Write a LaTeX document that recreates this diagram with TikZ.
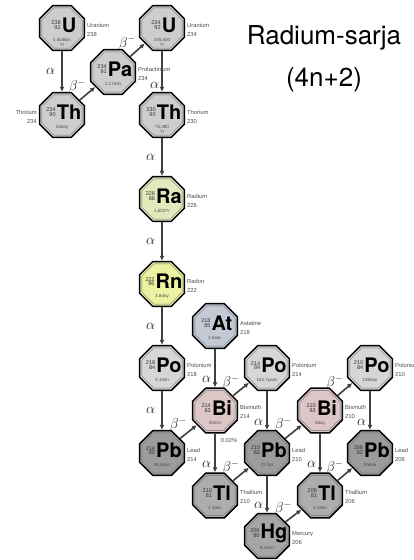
\documentclass[tikz,border=0pt]{standalone}
\usepackage{fontspec}
\setsansfont{TeX Gyre Heros}
\newfontfamily\lab{Liberation Sans}
\usetikzlibrary{shapes.geometric,arrows.meta}
\definecolor{cU}{HTML}{CDCDCD}
\definecolor{cRa}{HTML}{E2E9BC}
\definecolor{cRn}{HTML}{ECF2A2}
\definecolor{cAt}{HTML}{C4C9D6}
\definecolor{cPo}{HTML}{D6D6D6}
\definecolor{cBi}{HTML}{DCC6C6}
\definecolor{cPb}{HTML}{9C9C9C}
\definecolor{cTl}{HTML}{ADADAD}
\definecolor{cHg}{HTML}{A6A6A6}
\tikzset{
 oct/.style={regular polygon, regular polygon sides=8, minimum size=48.5pt, inner sep=0pt, draw=black, line width=1.5pt},
 octin/.style={regular polygon, regular polygon sides=8, minimum size=43.5pt, inner sep=0pt, draw=black!55, line width=0.4pt},
 sym/.style={font=\sffamily\bfseries\fontsize{20}{20}\selectfont, inner sep=0pt},
 num/.style={font=\lab\fontsize{5.5}{6}\selectfont, inner sep=0pt, text=black!80},
 hl/.style={font=\lab\fontsize{4.5}{5}\selectfont, inner sep=0pt, text=black!70, align=center, anchor=north},
 nm/.style={font=\lab\fontsize{5.8}{9}\selectfont, inner sep=0pt, text=black!70},
 decay/.style={draw=black!75, line width=1.6pt, -{Latex[length=5pt,width=5pt]}},
 glab/.style={font=\fontsize{14}{14}\selectfont, inner sep=0pt, text=black!85},
 alab/.style={glab, pos=0.5, left=6pt},
 alab2/.style={glab, pos=0.8, left=3pt},
 blab/.style={glab, pos=0.45, above left=0pt},
 title/.style={font=\sffamily\fontsize{26}{26}\selectfont, inner sep=0pt, anchor=base},
}
\newcommand\Nuc[9]{%
  \node[oct, fill=#8] (#1) at (#2,#3) {};
  \node[octin] (#1-in) at (#2,#3) {};
  \node[sym] (#1-s) at (#2+7,#3-2.5) {#6};
  \node[num, anchor=south east] (#1-a) at ([xshift=-0.8pt,yshift=0.3pt]#1-s.west) {#4};
  \node[num, anchor=north east] (#1-z) at ([xshift=-0.8pt,yshift=-0.3pt]#1-s.west) {#5};
  \node[hl] (#1-h) at (#2,#3+10.5) {#7};
  \node[nm, anchor=north west, align=left] (#1-l) at (#2+25,#3-5) {#9};
}
\begin{document}
\begin{tikzpicture}[x=1pt,y=-1pt]
\useasboundingbox (0,0) rectangle (414,560);
\fill[white] (0,0) rectangle (414,560);
\Nuc{U238}{62}{28}{238}{92}{U}{4.5billion\\Yr}{cU}{Uranium\\238}
\Nuc{U234}{162}{28}{234}{92}{U}{245,500\\Yr}{cU}{Uranium\\234}
\Nuc{Pa234}{113}{72}{234}{91}{Pa}{1.17min}{cU}{Protactinium\\234}
\Nuc{Th234}{62}{115}{234}{90}{Th}{24day}{cU}{}
\node[nm, anchor=north east, align=right] (Th234-l) at (37,110) {Thorium\\234};
\Nuc{Th230}{162}{115}{230}{90}{Th}{75,380\\Yr}{cU}{Thorium\\230}
\Nuc{Ra226}{162}{199}{226}{88}{Ra}{1,602Yr}{cRa}{Radium\\226}
\Nuc{Rn222}{162}{284}{222}{86}{Rn}{3.8day}{cRn}{Radon\\222}
\Nuc{At218}{215}{326}{218}{85}{At}{1.5sec}{cAt}{Astatine\\218}
\Nuc{Po218}{162}{368}{218}{84}{Po}{3.1min}{cPo}{Polonium\\218}
\Nuc{Po214}{267}{368}{214}{84}{Po}{163.7µsec}{cPo}{Polonium\\214}
\Nuc{Po210}{370}{368}{210}{84}{Po}{138day}{cPo}{Polonium\\210}
\Nuc{Bi214}{215}{410.5}{214}{83}{Bi}{20min}{cBi}{Bismuth\\214}
\Nuc{Bi210}{320}{410.5}{210}{83}{Bi}{5day}{cBi}{Bismuth\\210}
\Nuc{Pb214}{162}{453}{214}{82}{Pb}{26.8min}{cPb}{Lead\\214}
\Nuc{Pb210}{267}{453}{210}{82}{Pb}{22.3yr}{cPb}{Lead\\210}
\Nuc{Pb206}{370}{453}{206}{82}{Pb}{Stable}{cPb}{Lead\\206}
\Nuc{Tl210}{215}{495.5}{210}{81}{Tl}{1.3min}{cTl}{Thallium\\210}
\Nuc{Tl206}{320}{495.5}{206}{81}{Tl}{4.2min}{cTl}{Thallium\\206}
\Nuc{Hg206}{267}{536}{206}{80}{Hg}{8.2min}{cHg}{Mercury\\206}
\node[nm] (br) at (229,440) {0.02\%};
\node[title] (title1) at (324,44) {Radium-sarja};
\node[title] (title2) at (324,86) {(4n+2)};
\draw[decay] (U238) -- node[alab]{$\alpha$} (Th234);
\draw[decay] (Th234) -- node[blab]{$\beta^-$} (Pa234);
\draw[decay] (Pa234) -- node[blab]{$\beta^-$} (U234);
\draw[decay] (U234) -- node[glab, pos=0.85, left=2pt]{$\alpha$} (Th230);
\draw[decay] (Th230) -- node[alab]{$\alpha$} (Ra226);
\draw[decay] (Ra226) -- node[alab]{$\alpha$} (Rn222);
\draw[decay] (Rn222) -- node[alab]{$\alpha$} (Po218);
\draw[decay] (Po218) -- node[alab]{$\alpha$} (Pb214);
\draw[decay] (At218) -- node[alab2]{$\alpha$} (Bi214);
\draw[decay] (Pb214) -- node[blab]{$\beta^-$} (Bi214);
\draw[decay] (Bi214) -- node[blab]{$\beta^-$} (Po214);
\draw[decay] (Bi214) -- node[alab2]{$\alpha$} (Tl210);
\draw[decay] (Po214) -- node[alab2]{$\alpha$} (Pb210);
\draw[decay] (Tl210) -- node[blab]{$\beta^-$} (Pb210);
\draw[decay] (Pb210) -- node[blab]{$\beta^-$} (Bi210);
\draw[decay] (Pb210) -- node[alab2]{$\alpha$} (Hg206);
\draw[decay] (Hg206) -- node[blab]{$\beta^-$} (Tl206);
\draw[decay] (Bi210) -- node[blab]{$\beta^-$} (Po210);
\draw[decay] (Bi210) -- node[alab2]{$\alpha$} (Tl206);
\draw[decay] (Po210) -- node[alab2]{$\alpha$} (Pb206);
\draw[decay] (Tl206) -- node[blab]{$\beta^-$} (Pb206);
\end{tikzpicture}
\end{document}
